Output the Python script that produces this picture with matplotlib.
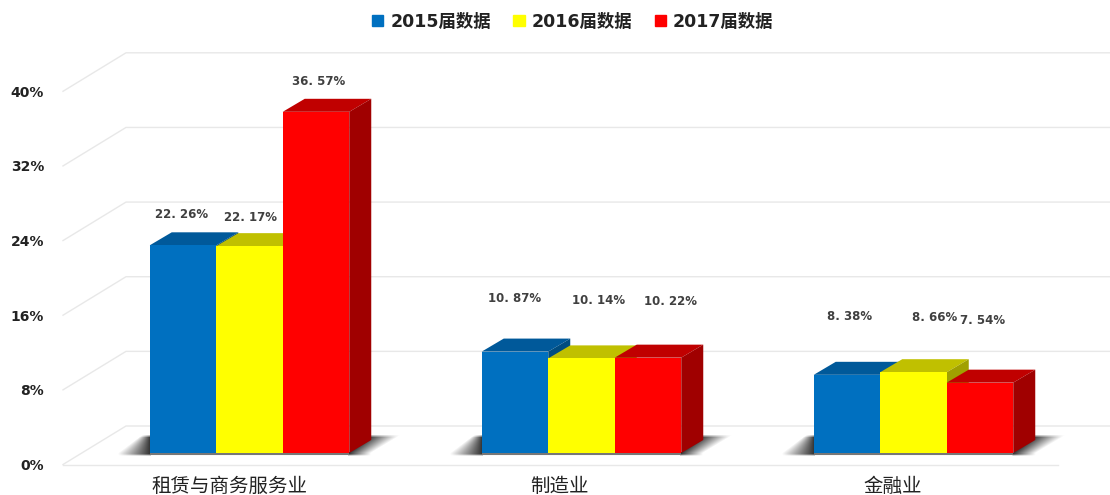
import matplotlib
matplotlib.use("Agg")
import matplotlib.pyplot as plt
import numpy as np
from matplotlib.patches import Patch, Polygon

plt.rcParams["font.family"] = ["DejaVu Sans", "Noto Sans CJK SC"]

# Data.
categories = ["租赁与商务服务业", "制造业", "金融业"]
series_names = ["2015届数据", "2016届数据", "2017届数据"]
values_2015 = [22.26, 10.87, 8.38]
values_2016 = [22.17, 10.14, 8.66]
values_2017 = [36.57, 10.22, 7.54]
y_ticks = [0, 8, 16, 24, 32, 40]

# Layout, all in pixels of the 1110x495 picture.
W, H = 1110, 495
PX_PER_PCT = 9.33
BASE_PX = 453
GROUP_0_PX = 249.5
GROUP_STEP_PX = 332
BAR_PX = 66.5
DEPTH_X_PX, DEPTH_Y_PX = 22, 13

# Label offsets from the front top centre of each bar (category, then series).
label_dx = [[-1, 1, 3], [0, 17, 22], [3, 21, 3]]
label_dy = [[31, 29, 30], [53, 58, 56], [58, 55, 62]]
cat_label_dx = [-20, -22, -21]

faces = [
    ("#0070C0", "#00599A", "#004C80"),
    ("#FFFF00", "#C0C000", "#A0A000"),
    ("#FF0000", "#C00000", "#A00000"),
]

fig = plt.figure(figsize=(W / 100, H / 100), dpi=100)
ax = fig.add_axes([0, 0, 1, 1])
xlim = (-GROUP_0_PX / GROUP_STEP_PX, (W - GROUP_0_PX) / GROUP_STEP_PX)
ylim = (-(H - BASE_PX) / PX_PER_PCT, BASE_PX / PX_PER_PCT)
ax.axis("off")

ux = 1 / GROUP_STEP_PX  # one pixel in x data units
uy = 1 / PX_PER_PCT  # one pixel in y data units
dx, dy = DEPTH_X_PX * ux, DEPTH_Y_PX * uy
bar_w = BAR_PX * ux

# Grid on the side wall and back wall, then the front edge of the floor.
for t in y_ticks:
    ax.plot([(63 - GROUP_0_PX) * ux, (126 - GROUP_0_PX) * ux, (W - GROUP_0_PX) * ux],
            [t - 11.5 * uy, t + 27 * uy, t + 27 * uy], color="#E8E8E8", lw=1, zorder=1)
ax.plot([(63 - GROUP_0_PX) * ux, (1058 - GROUP_0_PX) * ux], [-11.5 * uy, -11.5 * uy],
        color="#E8E8E8", lw=1, zorder=1)


def floor_shadow(xc, side):
    # xc is the bar edge in x pixels from the group centre, side is -1 or 1.
    xs = np.arange(-60, 60) + 0.5
    ys = np.arange(22, -4, -1) - 0.5  # pixels above the bar base, top row first
    xx, yy = np.meshgrid(xs, ys)
    t = np.clip(yy / 18, 0, 1)
    if side < 0:
        edge = -32 + 24 * t
        a = np.clip((xx - edge) / -edge, 0, 1) * (xx < 1)
    else:
        inner = 22 * t
        outer = 22 + 30 * t
        a = np.clip((outer - xx) / (outer - inner), 0, 1) * (xx > inner - 1)
    a = a * np.clip((18.5 - yy) / 3, 0, 1) * np.clip((yy + 3) / 2, 0, 1) * 0.8
    rgba = np.zeros(a.shape + (4,))
    rgba[..., 3] = a
    ax.imshow(rgba, extent=(xc - 60 * ux, xc + 60 * ux, -4 * uy, 22 * uy), aspect="auto",
              interpolation="bilinear", zorder=2)


for i in range(len(categories)):
    floor_shadow(i - 1.5 * bar_w, -1)
    floor_shadow(i + 1.5 * bar_w, 1)
    ax.plot([i - 1.5 * bar_w, i + 1.5 * bar_w], [-1 * uy, -1 * uy], color="#777777", lw=1.5,
            solid_capstyle="butt", zorder=2)

# Bars, drawn left to right so that later fronts cover earlier sides.
z = 3
for i in range(len(categories)):
    for s, vals in enumerate([values_2015, values_2016, values_2017]):
        v = vals[i]
        x0 = i + (s - 1.5) * bar_w
        x1 = x0 + bar_w
        front, top, side = faces[s]
        ax.add_patch(Polygon([(x0, v), (x0 + dx, v + dy), (x1 + dx, v + dy), (x1, v)],
                             closed=True, fc=top, ec="none", zorder=z))
        ax.add_patch(Polygon([(x1, 0), (x1 + dx, dy), (x1 + dx, v + dy), (x1, v)],
                             closed=True, fc=side, ec="none", zorder=z))
        ax.bar(x0, v, width=bar_w, align="edge", color=front, zorder=z + 0.5)
        z += 1
        ax.annotate(f"{v:.2f}%".replace(".", ". "), (x0 + bar_w / 2, v),
                    xytext=(label_dx[i][s], label_dy[i][s]), textcoords="offset pixels",
                    ha="center", va="center", fontsize=8.5, fontweight="bold",
                    color="#404040", zorder=50)

# Axis labels.
for t in y_ticks:
    ax.annotate(f"{t}%", ((44 - GROUP_0_PX) * ux, t - 13 * uy), ha="right", va="center",
                fontsize=10, fontweight="bold", color="#222222")
for i, name in enumerate(categories):
    ax.annotate(name, (i + cat_label_dx[i] * ux, -33.5 * uy), ha="center", va="center",
                fontsize=14, color="#222222")

ax.set_xlim(xlim)
ax.set_ylim(ylim)

handles = [Patch(color=faces[s][0], label=series_names[s]) for s in range(3)]
fig.legend(handles=handles, ncol=3, loc="upper center", bbox_to_anchor=(0.516, 1.006),
           frameon=False, handlelength=0.65, handleheight=0.65, handletextpad=0.4,
           columnspacing=1.3, prop={"size": 12.5, "weight": "bold"}, labelcolor="#222222")

fig.savefig("out.png", dpi=100)
